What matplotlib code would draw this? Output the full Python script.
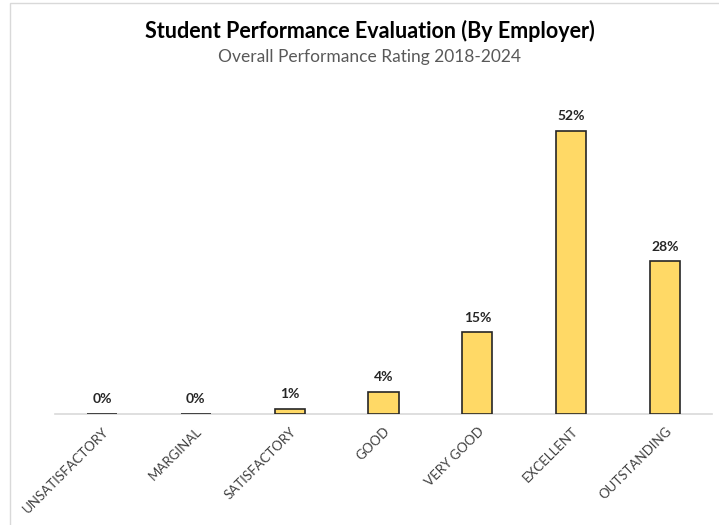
import matplotlib.pyplot as plt
from matplotlib.patches import Rectangle

# Employer ratings, share of students (%)
ratings = ['UNSATISFACTORY', 'MARGINAL', 'SATISFACTORY', 'GOOD',
           'VERY GOOD', 'EXCELLENT', 'OUTSTANDING']
shares = [0, 0, 1, 4, 15, 52, 28]

plt.rcParams['font.family'] = ['Lato', 'DejaVu Sans']

fig = plt.figure(figsize=(7.19, 5.25), dpi=100)
W, H = 719, 525

# chart frame, cut off at the right and bottom edge
fig.patches.append(Rectangle((10 / W, -0.1), 1.2, 1 - 3 / H + 0.1,
                             transform=fig.transFigure, fill=False,
                             edgecolor='#d9d9d9', linewidth=1))

ax = fig.add_axes([55 / W, (H - 414) / H, 657 / W, 327 / H])
x = range(len(ratings))
bars = ax.bar(x, shares, width=0.32, color='#ffd966', edgecolor='#262626',
              linewidth=1.2, zorder=3)
for xi, v in zip(x, shares):
    ax.text(xi, v + 1.6, f'{v}%', ha='center', va='bottom',
            fontsize=10, fontweight='bold', color='#262626')

ax.set_xlim(-0.5, len(ratings) - 0.5)
ax.set_ylim(0, 60)
ax.set_yticks([])
ax.set_xticks(list(x))
ax.set_xticklabels(ratings, rotation=45, ha='right', rotation_mode='anchor',
                   fontsize=9.5, color='#404040')
ax.tick_params(axis='x', length=0, pad=8)
for side in ['top', 'right', 'left']:
    ax.spines[side].set_visible(False)
ax.spines['bottom'].set_color('#d9d9d9')
ax.spines['bottom'].set_linewidth(1.2)

fig.text(370 / W, 1 - 31 / H, 'Student Performance Evaluation (By Employer)',
         ha='center', va='center', fontsize=15.5, fontweight='bold',
         color='black')
fig.text(370 / W, 1 - 57 / H, 'Overall Performance Rating 2018-2024',
         ha='center', va='center', fontsize=12.5, color='#595959')

fig.savefig('out.png', dpi=100)
